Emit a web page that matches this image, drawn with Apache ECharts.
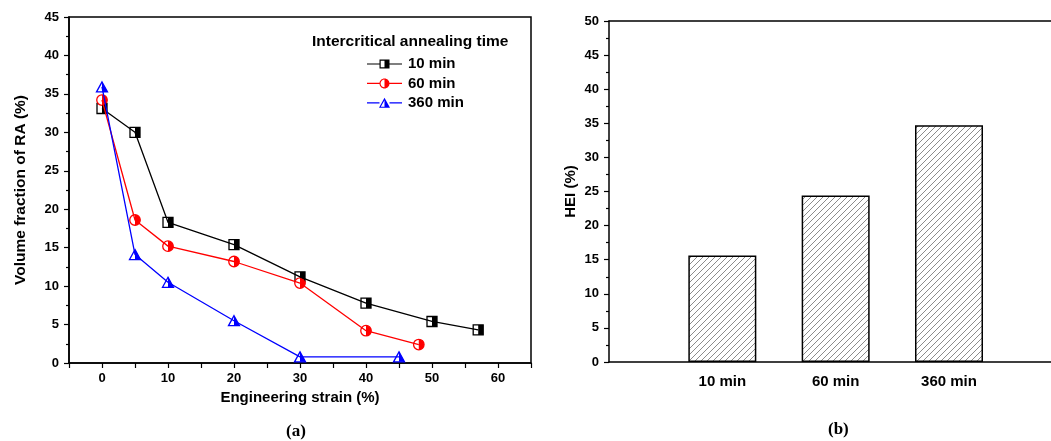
<!DOCTYPE html>
<html><head><meta charset="utf-8">
<script src="https://cdn.jsdelivr.net/npm/echarts@6/dist/echarts.min.js"></script>
<style>html,body{margin:0;padding:0;background:#fff}#c{width:1051px;height:441px}</style>
</head><body><div id="c"></div>
<script>
// ---- data ----
const strain10 = [0, 5, 10, 20, 30, 40, 50, 57];
const ra10 = [33.1, 30.0, 18.3, 15.4, 11.2, 7.8, 5.4, 4.3];
const strain60 = [0, 5, 10, 20, 30, 40, 48];
const ra60 = [34.2, 18.6, 15.2, 13.2, 10.4, 4.2, 2.4];
const strain360 = [0, 5, 10, 20, 30, 45];
const ra360 = [35.9, 14.1, 10.5, 5.5, 0.8, 0.8];
const seriesNames = ['10 min', '60 min', '360 min'];
const heiCategories = ['10 min', '60 min', '360 min'];
const heiValues = [15.6, 24.4, 34.7];
const legendTitle = 'Intercritical annealing time';
const xTitleA = 'Engineering strain (%)';
const yTitleA = 'Volume fraction of RA (%)';
const yTitleB = 'HEI (%)';

const zip = (xs, ys) => xs.map((x, i) => [x, ys[i]]);
const d10 = zip(strain10, ra10), d60 = zip(strain60, ra60), d360 = zip(strain360, ra360);

const FONT = 'Liberation Sans';
const colors = ['#000000', '#ff0000', '#0000ff'];

// hatch pattern
const T = 6;
const pc = document.createElement('canvas'); pc.width = T; pc.height = T;
const g = pc.getContext('2d');
g.fillStyle = '#fff'; g.fillRect(0, 0, T, T);
g.strokeStyle = '#6e6e6e'; g.lineWidth = 0.8;
g.beginPath();
g.moveTo(0, T); g.lineTo(T, 0);
g.moveTo(-1, 1); g.lineTo(1, -1);
g.moveTo(T - 1, T + 1); g.lineTo(T + 1, T - 1);
g.stroke();

// legend icons (line - half filled marker - line)
const lines = 'M0,4.4 L12.5,4.4 L12.5,5.6 L0,5.6 Z M22.5,4.4 L35,4.4 L35,5.6 L22.5,5.6 Z ';
const iconSquare = 'path://' + lines + 'M12.5,0.5 L22.5,0.5 L22.5,9.5 L12.5,9.5 Z M13.7,1.7 L13.7,8.3 L17.5,8.3 L17.5,1.7 Z M0,0 Z M0,10 Z';
const iconCircle = 'path://' + lines +
  'M22.5,5 C22.5,7.76 20.26,10 17.5,10 C14.74,10 12.5,7.76 12.5,5 C12.5,2.24 14.74,0 17.5,0 C20.26,0 22.5,2.24 22.5,5 Z ' +
  'M17.5,1.1 C15.35,1.1 13.6,2.85 13.6,5 C13.6,7.15 15.35,8.9 17.5,8.9 Z';
const iconTri = 'path://' + lines + 'M17.5,0 L23,10 L12,10 Z M17.5,2.4 L13.8,9 L17.5,9 Z';

const halfCircle = 'path://M0,0 C2.76,0 5,2.24 5,5 C5,7.76 2.76,10 0,10 Z';
const halfTri = 'path://M0,0 L5.5,10 L0,10 Z';

const tickLabel = { fontFamily: FONT, fontWeight: 'bold', fontSize: 13, color: '#000' };
const axisLine = { show: true, onZero: false, lineStyle: { color: '#000', width: 1.5 } };

const option = {
  animation: false,
  backgroundColor: '#fff',
  title: [
    { text: legendTitle, left: 312, top: 33.5, padding: 0,
      textStyle: { fontFamily: FONT, fontWeight: 'bold', fontSize: 15.5, color: '#000' } },
    { text: '(a)', left: 286, top: 423, padding: 0,
      textStyle: { fontFamily: 'Liberation Serif', fontWeight: 'bold', fontSize: 17, color: '#000' } },
    { text: '(b)', left: 828, top: 421, padding: 0,
      textStyle: { fontFamily: 'Liberation Serif', fontWeight: 'bold', fontSize: 17, color: '#000' } }
  ],
  legend: {
    orient: 'vertical', left: 367, top: 56.5, padding: 0, itemGap: 4.4,
    itemWidth: 35, itemHeight: 10,
    itemStyle: { borderWidth: 0 },
    textStyle: { fontFamily: FONT, fontWeight: 'bold', fontSize: 15, color: '#000', padding: [0, 0, 0, 1] },
    data: [
      { name: seriesNames[0], icon: iconSquare, itemStyle: { color: colors[0], borderWidth: 0 } },
      { name: seriesNames[1], icon: iconCircle, itemStyle: { color: colors[1], borderWidth: 0 } },
      { name: seriesNames[2], icon: iconTri, itemStyle: { color: colors[2], borderWidth: 0 } }
    ]
  },
  grid: [
    { left: 69, top: 17, width: 462, height: 346, show: true, borderColor: '#000', borderWidth: 1.5,
      backgroundColor: 'transparent', outerBoundsMode: 'none' },
    { left: 609, top: 21, width: 442, height: 341, show: false, outerBoundsMode: 'none' }
  ],
  xAxis: [
    { type: 'value', gridIndex: 0, min: -5, max: 65, interval: 5,
      name: xTitleA, nameLocation: 'middle', nameGap: 27,
      nameTextStyle: { fontFamily: FONT, fontWeight: 'bold', fontSize: 15, color: '#000' },
      axisLine: axisLine,
      axisTick: { show: true, inside: false, length: 5, lineStyle: { color: '#000', width: 1.2 } },
      axisLabel: Object.assign({ margin: 9, formatter: v => (v % 10 === 0 && v >= 0 && v <= 60) ? String(v) : '' }, tickLabel),
      splitLine: { show: false } },
    { type: 'value', gridIndex: 1, min: 0, max: 3.9, interval: 1,
      axisLine: axisLine,
      axisTick: { show: false },
      axisLabel: { margin: 12, fontFamily: FONT, fontWeight: 'bold', fontSize: 15, color: '#000',
        showMinLabel: false, showMaxLabel: false,
        formatter: v => heiCategories[v - 1] || '' },
      splitLine: { show: false } },
    { type: 'value', gridIndex: 1, position: 'top', min: 0, max: 3.9, interval: 1,
      axisLine: axisLine, axisTick: { show: false }, axisLabel: { show: false }, splitLine: { show: false } }
  ],
  yAxis: [
    { type: 'value', gridIndex: 0, min: 0, max: 45, interval: 5,
      name: yTitleA, nameLocation: 'middle', nameGap: 40,
      nameTextStyle: { fontFamily: FONT, fontWeight: 'bold', fontSize: 15.5, color: '#000' },
      axisLine: axisLine,
      axisTick: { show: true, inside: false, length: 5, lineStyle: { color: '#000', width: 1.2 } },
      minorTick: { show: true, splitNumber: 2, length: 3, lineStyle: { color: '#000', width: 1.2 } },
      axisLabel: Object.assign({ margin: 10 }, tickLabel),
      splitLine: { show: false } },
    { type: 'value', gridIndex: 1, min: 0, max: 50, interval: 5,
      name: yTitleB, nameLocation: 'middle', nameGap: 31,
      nameTextStyle: { fontFamily: FONT, fontWeight: 'bold', fontSize: 15, color: '#000' },
      axisLine: axisLine,
      axisTick: { show: true, inside: false, length: 5, lineStyle: { color: '#000', width: 1.2 } },
      minorTick: { show: true, splitNumber: 2, length: 3, lineStyle: { color: '#000', width: 1.2 } },
      axisLabel: Object.assign({ margin: 10 }, tickLabel),
      splitLine: { show: false } }
  ],
  series: [
    { name: seriesNames[0], type: 'line', data: d10, symbol: 'none', color: colors[0], lineStyle: { width: 1.3 } },
    { name: seriesNames[1], type: 'line', data: d60, symbol: 'none', color: colors[1], lineStyle: { width: 1.3 } },
    { name: seriesNames[2], type: 'line', data: d360, symbol: 'none', color: colors[2], lineStyle: { width: 1.3 } },
    // marker bases
    { name: '_b10', type: 'scatter', data: d10, symbol: 'rect', symbolSize: 10, silent: true,
      itemStyle: { color: '#fff', borderColor: colors[0], borderWidth: 1.3, opacity: 1 } },
    { name: '_b60', type: 'scatter', data: d60, symbol: 'circle', symbolSize: 10.5, silent: true,
      itemStyle: { color: '#fff', borderColor: colors[1], borderWidth: 1.3, opacity: 1 } },
    { name: '_b360', type: 'scatter', data: d360, symbol: 'triangle', symbolSize: [11, 10], silent: true,
      itemStyle: { color: '#fff', borderColor: colors[2], borderWidth: 1.3, opacity: 1 } },
    // half fills
    { name: '_h10', type: 'scatter', data: d10, symbol: 'rect', symbolSize: [5, 10], symbolOffset: [2.5, 0], silent: true,
      itemStyle: { color: colors[0], opacity: 1 } },
    { name: '_h60', type: 'scatter', data: d60, symbol: halfCircle, symbolSize: [5.25, 10.5], symbolOffset: [2.6, 0], silent: true,
      itemStyle: { color: colors[1], opacity: 1 } },
    { name: '_h360', type: 'scatter', data: d360, symbol: halfTri, symbolSize: [5.5, 10], symbolOffset: [2.75, 0], silent: true,
      itemStyle: { color: colors[2], opacity: 1 } },
    // bars
    { name: 'HEI', type: 'bar', xAxisIndex: 1, yAxisIndex: 1, barWidth: 68,
      data: heiValues.map((v, i) => [i + 1, v]),
      itemStyle: { color: { image: pc, repeat: 'repeat' }, borderColor: '#000', borderWidth: 1.5 } }
  ]
};
const chart = echarts.init(document.getElementById('c'), null, { renderer: 'canvas' });
chart.setOption(option);
</script>
</body></html>
